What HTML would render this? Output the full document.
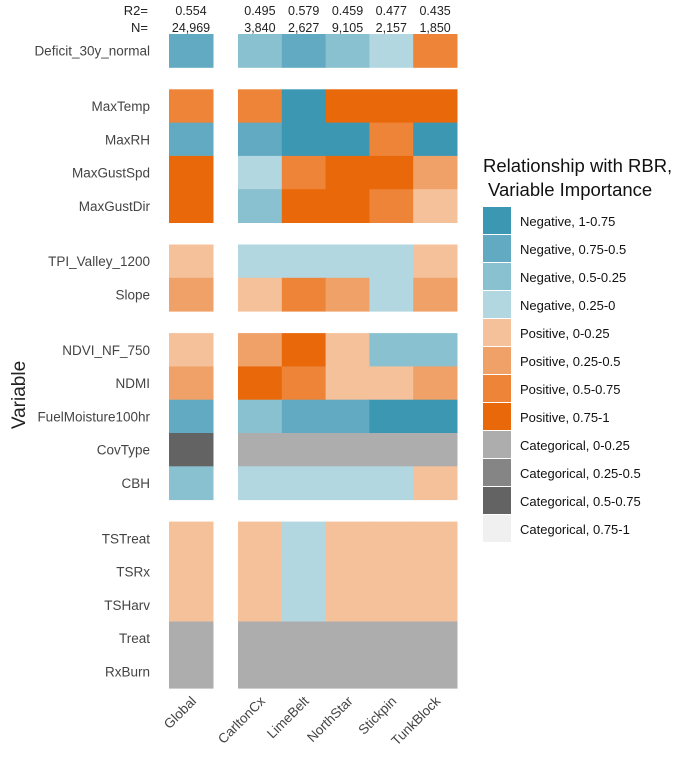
<!DOCTYPE html>
<html><head><meta charset="utf-8"><style>
body{margin:0;background:#fff;}
svg{display:block;font-family:"Liberation Sans",Arial,sans-serif;}
</style></head><body>
<svg id="chart" width="685" height="760"></svg>
<script>
const columns = ["Global","CarltonCx","LimeBelt","NorthStar","Stickpin","TunkBlock"];
const r2Values = ["0.554","0.495","0.579","0.459","0.477","0.435"];
const nValues = ["24,969","3,840","2,627","9,105","2,157","1,850"];
const variables = ["Deficit_30y_normal","MaxTemp","MaxRH","MaxGustSpd","MaxGustDir","TPI_Valley_1200","Slope","NDVI_NF_750","NDMI","FuelMoisture100hr","CovType","CBH","TSTreat","TSRx","TSHarv","Treat","RxBurn"];
const groups = [0,1,1,1,1,2,2,3,3,3,3,3,4,4,4,4,4];
const cells = [
 ["n2","n3","n2","n3","n4","p3"],
 ["p3","p3","n1","p4","p4","p4"],
 ["n2","n2","n1","n1","p3","n1"],
 ["p4","n4","p3","p4","p4","p2"],
 ["p4","n3","p4","p4","p3","p1"],
 ["p1","n4","n4","n4","n4","p1"],
 ["p2","p1","p3","p2","n4","p2"],
 ["p1","p2","p4","p1","n3","n3"],
 ["p2","p4","p3","p1","p1","p2"],
 ["n2","n3","n2","n2","n1","n1"],
 ["c3","c1","c1","c1","c1","c1"],
 ["n3","n4","n4","n4","n4","p1"],
 ["p1","p1","n4","p1","p1","p1"],
 ["p1","p1","n4","p1","p1","p1"],
 ["p1","p1","n4","p1","p1","p1"],
 ["c1","c1","c1","c1","c1","c1"],
 ["c1","c1","c1","c1","c1","c1"]
];
const legendKeys = ["n1","n2","n3","n4","p1","p2","p3","p4","c1","c2","c3","c4"];
const legendLabels = ["Negative, 1-0.75","Negative, 0.75-0.5","Negative, 0.5-0.25","Negative, 0.25-0","Positive, 0-0.25","Positive, 0.25-0.5","Positive, 0.5-0.75","Positive, 0.75-1","Categorical, 0-0.25","Categorical, 0.25-0.5","Categorical, 0.5-0.75","Categorical, 0.75-1"];
const colors = {n1:"#3b97b2",n2:"#62aac1",n3:"#8ac1d0",n4:"#b2d7e0",p1:"#f5c19b",p2:"#f0a168",p3:"#ed8438",p4:"#e8680a",c1:"#adadad",c2:"#858585",c3:"#636363",c4:"#f0f0f0"};

const NS="http://www.w3.org/2000/svg";
const svg=document.getElementById('chart');
function mk(tag,attrs,parent){const e=document.createElementNS(NS,tag);for(const k in attrs)e.setAttribute(k,attrs[k]);(parent||svg).appendChild(e);return e;}
const cw=43.8, rh=33.3, gapY=22;
function colX(i){return i===0?169:238+(i-1)*cw;}
function colW(i){return i===0?44:cw;}
function rowY(r){return 34+r*rh+groups[r]*gapY;}

for(let r=0;r<variables.length;r++){
  const lab=mk('text',{x:150,y:rowY(r)+rh/2+5,'text-anchor':'end','font-size':13.5,fill:'#444'});
  lab.textContent=variables[r];
  
  
  for(let c=0;c<columns.length;c++){
    const rect=mk('rect',{x:colX(c),y:rowY(r),width:colW(c)+0.5,height:rh+0.5,fill:colors[cells[r][c]]});
    
    
  }
}
for(let c=0;c<columns.length;c++){
  const cx=colX(c)+colW(c)/2;
  const t1=mk('text',{x:cx,y:15,'text-anchor':'middle','font-size':12.5,fill:'#222'});
  t1.textContent=r2Values[c];
  
  
  const t2=mk('text',{x:cx,y:32,'text-anchor':'middle','font-size':12.5,fill:'#222'});
  t2.textContent=nValues[c];
  
  
  const xl=mk('text',{x:cx+6,y:702,'text-anchor':'end','font-size':13.5,fill:'#444',transform:`rotate(-45 ${cx+6} 702)`});
  xl.textContent=columns[c];
  
  
}
</script>
<script>
(function(){
const s=document.getElementById('chart');
function t(x,y,txt,attrs,name){const e=document.createElementNS("http://www.w3.org/2000/svg",'text');e.setAttribute('x',x);e.setAttribute('y',y);for(const k in attrs)e.setAttribute(k,attrs[k]);e.textContent=txt;


s.appendChild(e);return e;}
t(148,15,"R2=",{'text-anchor':'end','font-size':13,fill:'#222'},'r2-header');
t(148,32,"N=",{'text-anchor':'end','font-size':13,fill:'#222'},'n-header');
t(25,395,"Variable",{'text-anchor':'middle','font-size':19,fill:'#222',transform:'rotate(-90 25 395)'},'y-axis-title');
t(483,172,"Relationship with RBR,",{'font-size':18.5,fill:'#111'},'legend-title');
t(488,196,"Variable Importance",{'font-size':18.5,fill:'#111'},'legend-title-line2');
for(let i=0;i<legendKeys.length;i++){
  const y=207+i*28;
  const r=document.createElementNS("http://www.w3.org/2000/svg",'rect');
  r.setAttribute('x',483);r.setAttribute('y',y);r.setAttribute('width',28);r.setAttribute('height',27);r.setAttribute('fill',colors[legendKeys[i]]);
  
  
  s.appendChild(r);
  t(520,y+19,legendLabels[i],{'font-size':13,fill:'#111'},'legend-entry');
}
})();
</script>
</body></html>
